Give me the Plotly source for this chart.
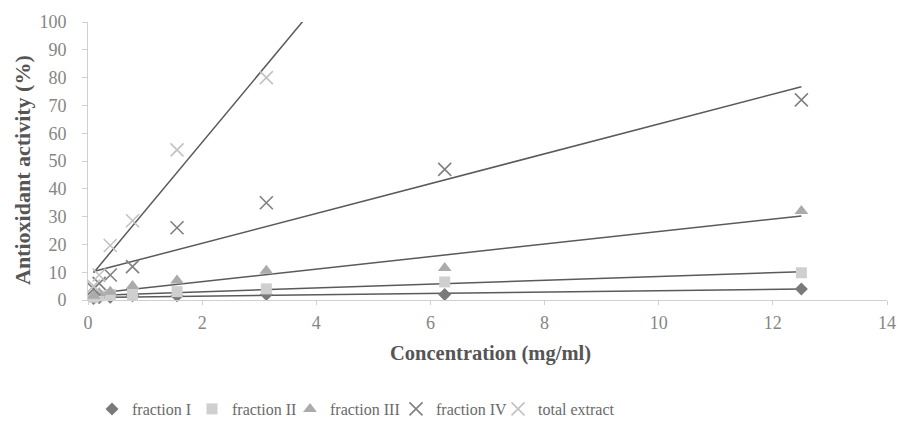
import numpy as np
import plotly.graph_objects as go

# ---- data ----
concentration = [0.098, 0.195, 0.39, 0.78, 1.56, 3.125, 6.25, 12.5]
fraction_I = [0.5, 0.8, 1.0, 1.5, 1.5, 2.0, 2.0, 4.0]
fraction_II = [1.0, 1.5, 2.0, 2.0, 3.0, 4.0, 6.5, 9.8]
fraction_III = [1.5, 2.5, 3.0, 5.0, 7.0, 10.5, 11.5, 32.0]
fraction_IV = [4.0, 6.0, 9.0, 12.0, 26.0, 35.0, 47.0, 72.0]
total_conc = [0.098, 0.195, 0.39, 0.78, 1.56, 3.125]
total_extract = [5.0, 9.0, 19.6, 28.5, 54.0, 80.0]

x_ticks = [0, 2, 4, 6, 8, 10, 12, 14]
y_ticks = [0, 10, 20, 30, 40, 50, 60, 70, 80, 90, 100]

series = [
    ("fraction I", concentration, fraction_I, "diamond", 10, "#7a7a7a"),
    ("fraction II", concentration, fraction_II, "square", 11, "#cfcfcf"),
    ("fraction III", concentration, fraction_III, "triangle-up", 12, "#ababab"),
    ("fraction IV", concentration, fraction_IV, "x-thin-open", 13, "#808080"),
    ("total extract", total_conc, total_extract, "x-thin-open", 13, "#c2c2c2"),
]

SERIF = "Liberation Serif, Times New Roman, serif"
W, H = 900, 423
L, R, T, B = 88, 13, 22, 123
pw, ph = W - L - R, H - T - B

fig = go.Figure()

# linear trendlines (least squares fit of each series)
for name, xs, ys, sym, size, col in series:
    slope, icpt = np.polyfit(xs, ys, 1)
    x_end = 12.5 if name != "total extract" else 6.25
    tx = np.array([xs[0], x_end])
    fig.add_trace(go.Scatter(x=tx, y=slope * tx + icpt, mode="lines",
                             line=dict(color="#5a5a5a", width=1.5),
                             showlegend=False, hoverinfo="skip"))

legend_ids = ["legend", "legend2", "legend3", "legend4", "legend5"]
legend_left_px = [92, 192, 290, 396, 498]

for (name, xs, ys, sym, size, col), lid in zip(series, legend_ids):
    marker = dict(symbol=sym, size=size, color=col)
    if "open" in sym:
        marker["line"] = dict(color=col, width=1.6)
    fig.add_trace(go.Scatter(x=xs, y=ys, mode="markers", name=name,
                             marker=marker, cliponaxis=False, legend=lid))

legend_common = dict(orientation="h", xref="container", yref="container",
                     xanchor="left", y=(H - 409) / H, yanchor="middle",
                     font=dict(family=SERIF, size=16, color="#6a6a6a"),
                     itemwidth=30, bgcolor="rgba(0,0,0,0)")
legend_layout = {lid: dict(legend_common, x=px / W)
                 for lid, px in zip(legend_ids, legend_left_px)}

fig.update_layout(
    width=W, height=H,
    margin=dict(l=L, r=R, t=T, b=B, autoexpand=False),
    paper_bgcolor="white", plot_bgcolor="white",
    font=dict(family=SERIF, size=18, color="#858585"),
    showlegend=True,
    xaxis=dict(range=[0, 14], tickvals=x_ticks, ticktext=[str(v) for v in x_ticks],
               showgrid=False, zeroline=False, showline=True, linecolor="#d0d0d0",
               linewidth=1, ticks="outside", ticklen=4, tickcolor="#d0d0d0",
               ticklabelstandoff=2, tickfont=dict(size=18, color="#858585")),
    yaxis=dict(range=[0, 100], tickvals=y_ticks, showgrid=False, zeroline=False,
               showline=True, linecolor="#d0d0d0", linewidth=1, ticks="outside",
               ticklen=5, tickcolor="#d0d0d0", ticklabelstandoff=12,
               tickfont=dict(size=18, color="#858585")),
    annotations=[
        dict(text="<b>Concentration (mg/ml)</b>", xref="paper", yref="paper",
             x=(490 - L) / pw, y=(T + ph - 353) / ph, xanchor="center", yanchor="middle",
             showarrow=False, font=dict(family=SERIF, size=20.5, color="#555555")),
        dict(text="<b>Antioxidant activity (%)</b>", xref="paper", yref="paper",
             x=(22 - L) / pw, y=(T + ph - 170) / ph, xanchor="center", yanchor="middle",
             textangle=-90, showarrow=False,
             font=dict(family=SERIF, size=22, color="#555555")),
    ],
    **legend_layout,
)

fig.write_html("out.html")
